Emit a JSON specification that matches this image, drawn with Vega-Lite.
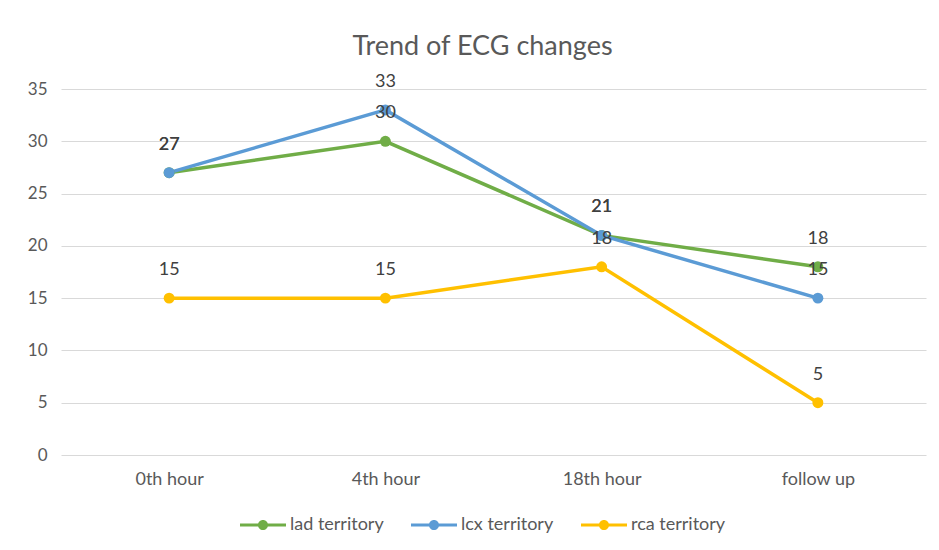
{
  "$schema": "https://vega.github.io/schema/vega-lite/v6.json",
  "autosize": "none",
  "width": 865,
  "height": 366,
  "padding": {"left": 61, "top": 89, "right": 13, "bottom": 95},
  "background": "white",
  "title": {
    "text": "Trend of ECG changes",
    "anchor": "middle",
    "frame": "group",
    "font": "Lato",
    "fontSize": 27,
    "fontWeight": "normal",
    "color": "#595959",
    "offset": 12,
    "dx": -11
  },
  "data": {
    "values": [
      {"time": "0th hour", "series": "lad territory", "value": 27},
      {"time": "4th hour", "series": "lad territory", "value": 30},
      {"time": "18th hour", "series": "lad territory", "value": 21},
      {"time": "follow up", "series": "lad territory", "value": 18},
      {"time": "0th hour", "series": "lcx territory", "value": 27},
      {"time": "4th hour", "series": "lcx territory", "value": 33},
      {"time": "18th hour", "series": "lcx territory", "value": 21},
      {"time": "follow up", "series": "lcx territory", "value": 15},
      {"time": "0th hour", "series": "rca territory", "value": 15},
      {"time": "4th hour", "series": "rca territory", "value": 15},
      {"time": "18th hour", "series": "rca territory", "value": 18},
      {"time": "follow up", "series": "rca territory", "value": 5}
    ]
  },
  "encoding": {
    "x": {
      "field": "time",
      "type": "nominal",
      "sort": ["0th hour", "4th hour", "18th hour", "follow up"],
      "scale": {"paddingInner": 0, "paddingOuter": 0},
      "axis": {
        "title": null,
        "labelAngle": 0,
        "labelFont": "Lato",
        "labelFontSize": 18,
        "labelColor": "#595959",
        "labelPadding": 15,
        "ticks": false,
        "domain": false,
        "grid": false
      }
    },
    "y": {
      "field": "value",
      "type": "quantitative",
      "scale": {"domain": [0, 35], "nice": false},
      "axis": {
        "title": null,
        "values": [0, 5, 10, 15, 20, 25, 30, 35],
        "labelFont": "Lato",
        "labelFontSize": 17,
        "labelColor": "#595959",
        "labelPadding": 14,
        "ticks": false,
        "domain": false,
        "gridColor": "#D9D9D9",
        "gridWidth": 1
      }
    },
    "color": {
      "field": "series",
      "type": "nominal",
      "scale": {
        "domain": ["lad territory", "lcx territory", "rca territory"],
        "range": ["#70AD47", "#5B9BD5", "#FFC000"]
      },
      "legend": {
        "title": null,
        "orient": "none",
        "direction": "horizontal",
        "legendX": 179,
        "legendY": 413,
        "labelFont": "Lato",
        "labelFontSize": 18,
        "labelColor": "#595959",
        "symbolType": "M-1,-0.065H1V0.065H-1Z M0.22,0A0.22,0.22 0 1,1 -0.22,0A0.22,0.22 0 1,1 0.22,0Z",
        "symbolSize": 2116,
        "symbolStrokeWidth": 0,
        "symbolOpacity": 1,
        "labelOffset": 4,
        "columnPadding": 27
      }
    }
  },
  "layer": [
    {
      "mark": {"type": "line", "strokeWidth": 3.5, "point": {"filled": true, "size": 120, "opacity": 1}}
    },
    {
      "mark": {"type": "text", "dy": -28, "font": "Lato", "fontSize": 18, "color": "#404040"},
      "encoding": {
        "text": {"field": "value", "type": "quantitative"},
        "color": {"value": "#404040"}
      }
    }
  ],
  "config": {
    "view": {"stroke": null}
  }
}
